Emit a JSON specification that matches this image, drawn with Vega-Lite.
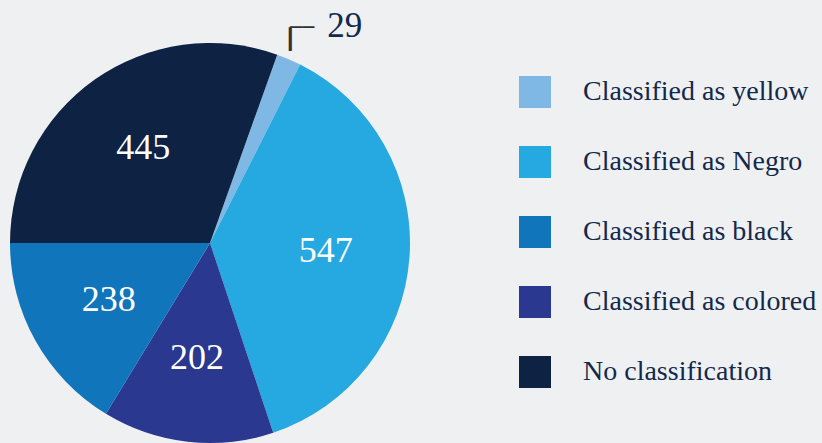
{
  "$schema": "https://vega.github.io/schema/vega-lite/v6.json",
  "width": 420,
  "height": 486,
  "autosize": "none",
  "padding": {"left": 0, "top": 0, "right": 402, "bottom": 0},
  "background": "#eff0f2",
  "config": {"view": {"stroke": null}},
  "data": {"values": [
    {"category": "Classified as yellow", "count": 29, "order": 1},
    {"category": "Classified as Negro", "count": 547, "order": 2},
    {"category": "Classified as colored", "count": 202, "order": 3},
    {"category": "Classified as black", "count": 238, "order": 4},
    {"category": "No classification", "count": 445, "order": 5}
  ]},
  "encoding": {
    "theta": {"field": "count", "type": "quantitative", "stack": true, "scale": {"range": [0.343, 6.626]}},
    "order": {"field": "order", "type": "quantitative"}
  },
  "layer": [
    {
      "mark": {"type": "arc", "outerRadius": 200},
      "encoding": {
        "color": {
          "field": "category", "type": "nominal",
          "scale": {
            "domain": ["Classified as yellow", "Classified as Negro", "Classified as black", "Classified as colored", "No classification"],
            "range": ["#7fb8e4", "#25a9e0", "#1075bb", "#2a3890", "#0e2244"]
          },
          "legend": {
            "title": null,
            "orient": "none",
            "legendX": 519,
            "legendY": 76,
            "padding": 0,
            "symbolType": "square",
            "symbolSize": 1024,
            "symbolStrokeWidth": 0,
            "symbolOpacity": 1,
            "rowPadding": 38,
            "labelOffset": 32,
            "labelFont": "Liberation Serif",
            "labelFontSize": 28,
            "labelColor": "#13294b",
            "labelLimit": 400
          }
        }
      }
    },
    {
      "mark": {"type": "text", "radius": 116, "font": "Liberation Serif", "fontSize": 36, "fill": "#ffffff", "align": "center", "baseline": "middle"},
      "encoding": {
        "text": {"condition": {"test": "datum.count >= 100", "field": "count", "type": "quantitative"}, "value": ""}
      }
    },
    {
      "mark": {"type": "text", "radius": 230, "dx": 44, "dy": -6, "font": "Liberation Serif", "fontSize": 35, "fill": "#13294b", "align": "center", "baseline": "middle"},
      "encoding": {
        "text": {"condition": {"test": "datum.count < 100", "field": "count", "type": "quantitative"}, "value": ""}
      }
    },
    {
      "mark": {"type": "text", "radius": 230, "dx": -10.6, "dy": 2.8, "font": "DejaVu Sans Mono", "fontSize": 20, "fill": "#333333", "align": "left", "baseline": "alphabetic"},
      "encoding": {
        "text": {"condition": {"test": "datum.count < 100", "value": "──"}, "value": ""}
      }
    },
    {
      "mark": {"type": "text", "radius": 230, "dx": -10.6, "dy": 9.2, "font": "DejaVu Sans Mono", "fontSize": 40, "fill": "#333333", "align": "center", "baseline": "alphabetic"},
      "encoding": {
        "text": {"condition": {"test": "datum.count < 100", "value": "╷"}, "value": ""}
      }
    }
  ]
}
